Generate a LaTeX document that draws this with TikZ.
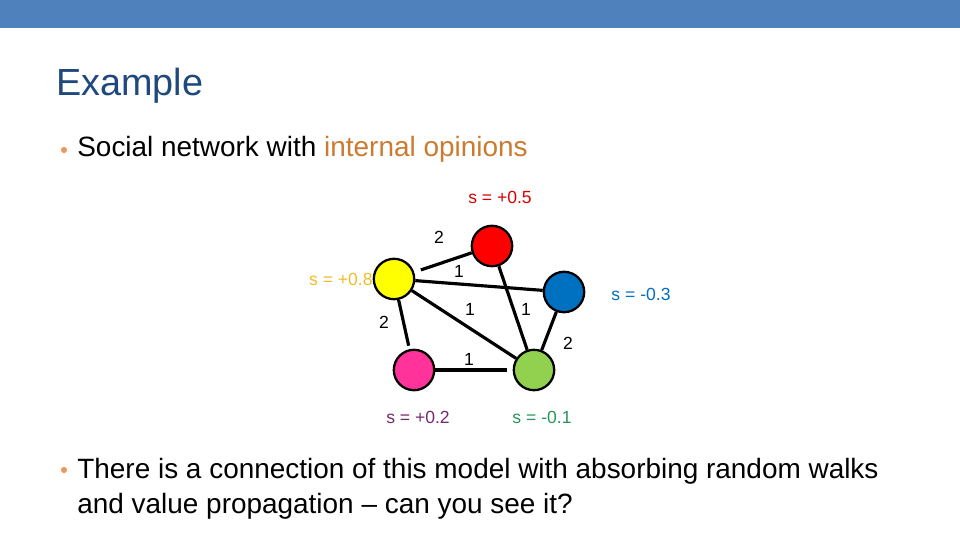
\documentclass[tikz,border=0pt]{standalone}
\usepackage{fontspec}
\setmainfont{Liberation Sans}
\definecolor{barblue}{RGB}{79,129,189}
\definecolor{titleblue}{RGB}{31,73,125}
\definecolor{opinion}{RGB}{204,122,48}
\definecolor{dotorange}{RGB}{232,152,92}
\definecolor{nodered}{RGB}{255,0,0}
\definecolor{nodeyellow}{RGB}{255,255,0}
\definecolor{nodeblue}{RGB}{0,112,192}
\definecolor{nodepink}{RGB}{255,51,153}
\definecolor{nodegreen}{RGB}{146,208,80}
\definecolor{labgold}{RGB}{242,188,40}
\definecolor{labpurple}{RGB}{118,40,110}
\definecolor{labgreen}{RGB}{40,150,90}
\tikzset{
  person/.style={circle, draw=black, line width=1.3pt, minimum size=23pt, inner sep=0pt},
  tie/.style={line width=1.8pt},
  weight/.style={font=\fontsize{10}{12}\selectfont},
  opinionlab/.style={font=\fontsize{10}{12}\selectfont},
  bulletdot/.style={circle, fill=dotorange, inner sep=0pt, minimum size=3.5pt}
}
\begin{document}
\begin{tikzpicture}[x=0.02cm, y=-0.02cm]
  \useasboundingbox (0,0) rectangle (960,540);

  % -- Header bar and title --
  \fill[barblue] (0,0) rectangle (960,28);
  \node[anchor=base west, inner sep=0pt, text=titleblue, font=\fontsize{21.5}{24}\selectfont] (title) at (56,96) {Example};

  % -- First bullet --
  \node[bulletdot] (dotA) at (64,150) {};
  \node[anchor=base west, inner sep=0pt, font=\fontsize{15.9}{17}\selectfont] (lineA) at (77,157) {Social network with \textcolor{opinion}{internal opinions}};

  % -- Network --
  \node[person, fill=nodered] (red) at (492,246) {};
  \node[person, fill=nodeyellow] (yellow) at (394,279) {};
  \node[person, fill=nodeblue] (blue) at (564,292) {};
  \node[person, fill=nodepink] (pink) at (414,370) {};
  \node[person, fill=nodegreen] (green) at (534,370) {};

  \draw[tie, shorten <=4pt] (yellow) -- (red);
  \draw[tie] (yellow) -- (blue);
  \draw[tie] (yellow) -- (green);
  \draw[tie, shorten >=2pt] (yellow) -- (pink);
  \draw[tie] (red) -- (green);
  \draw[tie] (blue) -- (green);
  \draw[tie, shorten >=3pt] (pink) -- (green);

  % -- Edge weights --
  \node[weight] (wYR) at (439,237) {2};
  \node[weight] (wYB) at (459,271) {1};
  \node[weight] (wYG) at (470,309) {1};
  \node[weight] (wRG) at (526,309) {1};
  \node[weight] (wYP) at (384,322) {2};
  \node[weight] (wPG) at (469,359) {1};
  \node[weight] (wBG) at (568,343) {2};

  % -- Internal opinions --
  \node[opinionlab, text=red!85!black] (sR) at (500,197) {s = +0.5};
  \node[opinionlab, text=labgold, anchor=east, inner sep=0pt] (sY) at (373,279) {s = +0.8};
  \node[opinionlab, text=nodeblue] (sB) at (641,294) {s = -0.3};
  \node[opinionlab, text=labpurple] (sP) at (418,417) {s = +0.2};
  \node[opinionlab, text=labgreen] (sG) at (542,417) {s = -0.1};

  % -- Second bullet --
  \node[bulletdot] (dotB) at (64,470) {};
  \node[anchor=base west, inner sep=0pt, align=left, font=\fontsize{15.9}{19.4}\selectfont] (lineB) at (77,513) {There is a connection of this model with absorbing random walks\\and value propagation -- can you see it?};
\end{tikzpicture}
\end{document}
